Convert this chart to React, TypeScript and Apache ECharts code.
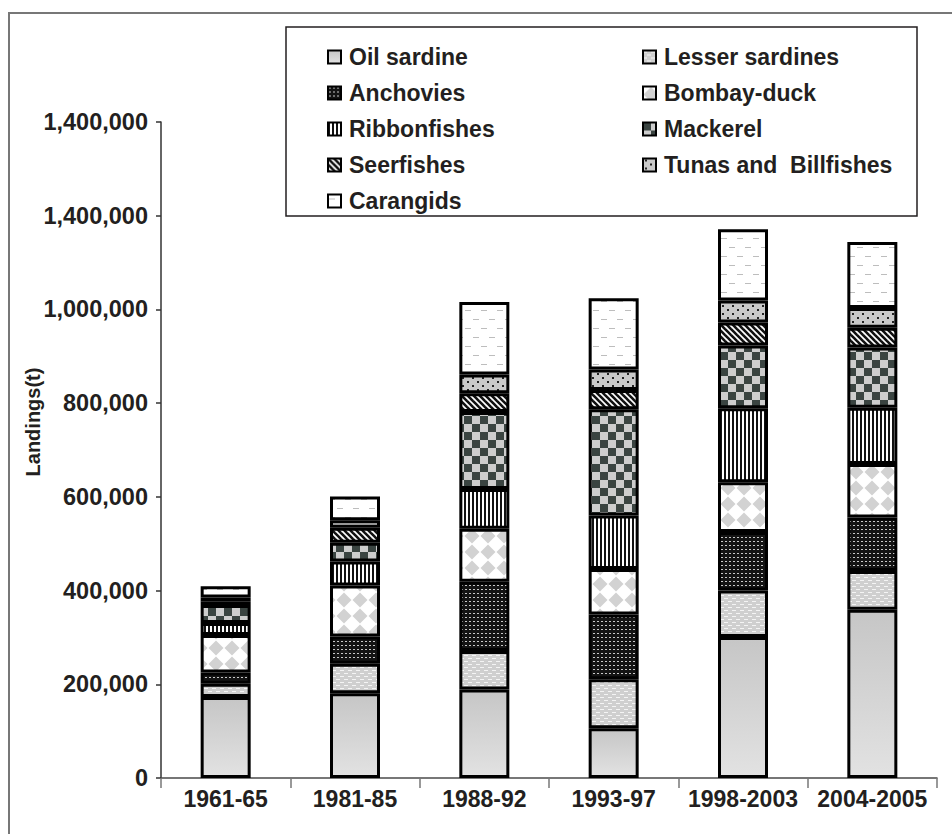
import React, { useEffect, useRef } from 'react';
import * as echarts from 'echarts';

const categories = ['1961-65', '1981-85', '1988-92', '1993-97', '1998-2003', '2004-2005'];
const seriesNames = [
  'Oil sardine', 'Lesser sardines', 'Anchovies', 'Bombay-duck', 'Ribbonfishes',
  'Mackerel', 'Seerfishes', 'Tunas and  Billfishes', 'Carangids',
];
const oilSardine = [173000, 181000, 189000, 106000, 301000, 359000];
const lesserSardines = [28000, 63000, 82000, 105000, 99000, 83000];
const anchovies = [24000, 58000, 148000, 138000, 125000, 114000];
const bombayDuck = [80000, 109000, 113000, 97000, 106000, 114000];
const ribbonfishes = [26000, 51000, 85000, 114000, 158000, 120000];
const mackerel = [38000, 40000, 164000, 227000, 134000, 129000];
const seerfishes = [8000, 32000, 40000, 41000, 49000, 42000];
const tunasBillfishes = [8000, 16000, 40000, 44000, 47000, 42000];
const carangids = [24000, 51000, 155000, 152000, 152000, 141000];
const yTickValues = [0, 200000, 400000, 600000, 800000, 1000000, 1200000, 1400000];
const yTickLabels = ['0', '200,000', '400,000', '600,000', '800,000', '1,000,000', '1,400,000', '1,400,000'];
const legendLeftColumn = ['Oil sardine', 'Anchovies', 'Ribbonfishes', 'Seerfishes', 'Carangids'];
const legendRightColumn = ['Lesser sardines', 'Bombay-duck', 'Mackerel', 'Tunas and  Billfishes'];
const yAxisTitle = 'Landings(t)';

const FONT = '"Liberation Sans", Arial, Helvetica, sans-serif';
const TEXT = '#231f20';

function makePattern(w: number, h: number, draw: (ctx: CanvasRenderingContext2D) => void) {
  const c = document.createElement('canvas');
  c.width = w;
  c.height = h;
  const ctx = c.getContext('2d') as CanvasRenderingContext2D;
  draw(ctx);
  return { image: c.toDataURL(), repeat: 'repeat', imageWidth: w, imageHeight: h } as any;
}

function buildFills() {
  const oil = new echarts.graphic.LinearGradient(0, 0, 0, 1, [
    { offset: 0, color: '#c6c6c6' },
    { offset: 1, color: '#e2e2e2' },
  ]);
  const lesser = makePattern(8, 6, (ctx) => {
    ctx.fillStyle = '#cfcfcf';
    ctx.fillRect(0, 0, 8, 6);
    ctx.fillStyle = '#f4f4f4';
    ctx.fillRect(0, 1, 4, 1);
    ctx.fillRect(4, 4, 4, 1);
  });
  const anch = makePattern(4, 4, (ctx) => {
    ctx.fillStyle = '#141414';
    ctx.fillRect(0, 0, 4, 4);
    ctx.fillStyle = '#c8c8c8';
    ctx.fillRect(1, 1, 2, 1);
  });
  const bombay = makePattern(16, 16, (ctx) => {
    ctx.fillStyle = '#ffffff';
    ctx.fillRect(0, 0, 16, 16);
    ctx.fillStyle = '#d2d2d2';
    ctx.beginPath();
    ctx.moveTo(8, 0.5);
    ctx.lineTo(15.5, 8);
    ctx.lineTo(8, 15.5);
    ctx.lineTo(0.5, 8);
    ctx.closePath();
    ctx.fill();
  });
  const ribbon = makePattern(4, 4, (ctx) => {
    ctx.fillStyle = '#ffffff';
    ctx.fillRect(0, 0, 4, 4);
    ctx.fillStyle = '#111111';
    ctx.fillRect(0, 0, 2, 4);
  });
  const mack = makePattern(16, 16, (ctx) => {
    ctx.fillStyle = '#cdcdcd';
    ctx.fillRect(0, 0, 16, 16);
    ctx.fillStyle = '#3a4441';
    ctx.fillRect(0, 0, 8, 8);
    ctx.fillRect(8, 8, 8, 8);
  });
  const seer = makePattern(6, 6, (ctx) => {
    ctx.fillStyle = '#ffffff';
    ctx.fillRect(0, 0, 6, 6);
    ctx.strokeStyle = '#111111';
    ctx.lineWidth = 2.6;
    for (const k of [-6, 0, 6]) {
      ctx.beginPath();
      ctx.moveTo(k - 1, -1);
      ctx.lineTo(k + 7, 7);
      ctx.stroke();
    }
  });
  const tunas = makePattern(10, 8, (ctx) => {
    ctx.fillStyle = '#c9c9c9';
    ctx.fillRect(0, 0, 10, 8);
    ctx.fillStyle = '#222222';
    ctx.fillRect(2, 1, 2, 2);
    ctx.fillRect(7, 5, 2, 2);
  });
  const caran = makePattern(16, 18, (ctx) => {
    ctx.fillStyle = '#ffffff';
    ctx.fillRect(0, 0, 16, 18);
    ctx.fillStyle = '#bdbdbd';
    ctx.fillRect(1, 4, 6, 1);
    ctx.fillRect(9, 13, 6, 1);
  });
  return [oil, lesser, anch, bombay, ribbon, mack, seer, tunas, caran];
}

export default function App() {
  const ref = useRef<HTMLDivElement>(null);

  useEffect(() => {
    if (!ref.current) return;
    const chart = echarts.init(ref.current, null, { renderer: 'svg' });
    const fills = buildFills();
    const seriesValues = [
      oilSardine, lesserSardines, anchovies, bombayDuck, ribbonfishes,
      mackerel, seerfishes, tunasBillfishes, carangids,
    ];

    const legendCommon = {
      orient: 'vertical',
      top: 39,
      itemWidth: 13,
      itemHeight: 13,
      itemGap: 10,
      icon: 'rect',
      selectedMode: false,
      itemStyle: { borderColor: '#000', borderWidth: 2 },
      textStyle: {
        fontSize: 23,
        fontWeight: 'bold',
        color: TEXT,
        fontFamily: FONT,
        lineHeight: 26,
        padding: [0, 0, 0, 3],
      },
    };

    const option: any = {
      animation: false,
      backgroundColor: '#ffffff',
      grid: { left: 161, right: 15, top: 122, bottom: 56, containLabel: false },
      legend: [
        { ...legendCommon, left: 322, data: legendLeftColumn },
        { ...legendCommon, left: 637, data: legendRightColumn },
      ],
      xAxis: {
        type: 'category',
        data: categories,
        axisLine: { show: true, lineStyle: { color: '#4a4a4a', width: 1.5 } },
        axisTick: { show: true, length: 10, interval: 0, lineStyle: { color: '#777777', width: 1.5 } },
        axisLabel: {
          interval: 0,
          margin: 9,
          fontSize: 23,
          fontWeight: 'bold',
          color: TEXT,
          fontFamily: FONT,
        },
      },
      yAxis: {
        type: 'value',
        min: yTickValues[0],
        max: yTickValues[yTickValues.length - 1],
        interval: yTickValues[1] - yTickValues[0],
        splitLine: { show: false },
        axisLine: { show: true, lineStyle: { color: '#333333', width: 1.5 } },
        axisTick: { show: true, length: 5, lineStyle: { color: '#333333', width: 1.5 } },
        axisLabel: {
          margin: 13,
          fontSize: 23.5,
          fontWeight: 'bold',
          color: TEXT,
          fontFamily: FONT,
          formatter: (v: number) => {
            const idx = yTickValues.indexOf(v);
            return idx >= 0 ? yTickLabels[idx] : '';
          },
        },
      },
      graphic: [
        {
          type: 'polyline',
          z: 0,
          silent: true,
          shape: { points: [[9, 834], [9, 13], [952, 13]] },
          style: { stroke: '#777777', lineWidth: 2, fill: null },
        },
        {
          type: 'rect',
          z: 0,
          silent: true,
          shape: { x: 286, y: 27, width: 631, height: 189 },
          style: { stroke: '#231f20', lineWidth: 1.5, fill: '#ffffff' },
        },
        {
          type: 'text',
          z: 5,
          silent: true,
          x: 33,
          y: 422,
          rotation: Math.PI / 2,
          style: {
            text: yAxisTitle,
            fontSize: 20,
            fontWeight: 'bold',
            fontFamily: FONT,
            fill: TEXT,
            align: 'center',
            verticalAlign: 'middle',
          },
        },
      ],
      series: seriesNames.map((name, i) => ({
        name,
        type: 'bar',
        stack: 'total',
        barWidth: 50,
        data: seriesValues[i],
        itemStyle: { color: fills[i], borderColor: '#000000', borderWidth: 3 },
        emphasis: { disabled: true },
      })),
    };

    chart.setOption(option);
    return () => chart.dispose();
  }, []);

  return (
    <div
      ref={ref}
      style={{ position: 'fixed', left: 0, top: 0, width: 952, height: 834, background: '#ffffff' }}
    />
  );
}
